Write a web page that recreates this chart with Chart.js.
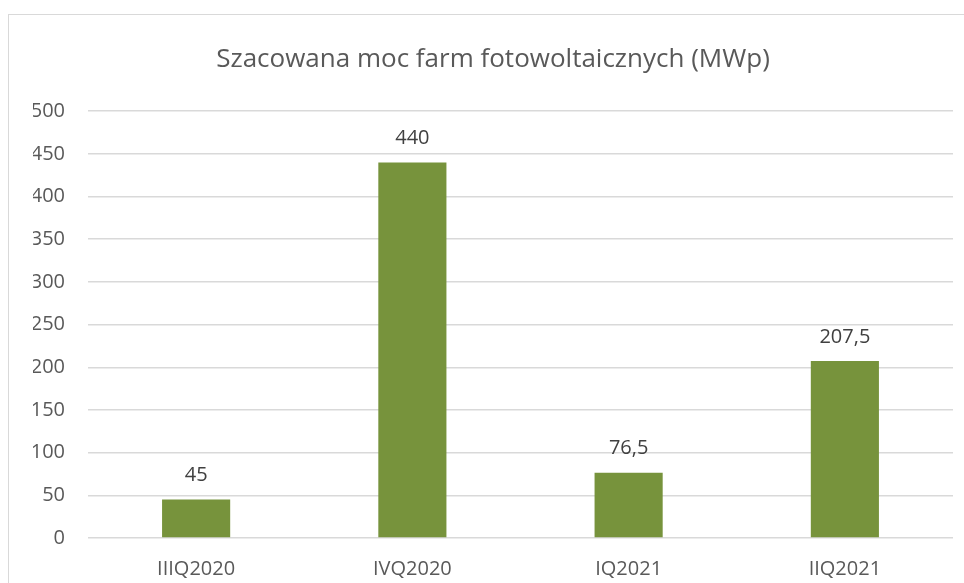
<!DOCTYPE html>
<html>
<head>
<meta charset="utf-8">
<script src="https://cdn.jsdelivr.net/npm/chart.js@4"></script>
<style>
  html, body { margin: 0; padding: 0; background: #fff; overflow: hidden; }
  #frame { position: absolute; left: 8px; top: 14px; width: 1100px; height: 800px; border: 1px solid #d9d9d9; }
  #wrap { position: absolute; left: 0; top: 0; width: 964px; height: 583px; }
</style>
</head>
<body>
<div id="frame"></div>
<div id="wrap"><canvas id="chart"></canvas></div>
<script>
// data
const quarters = ['IIIQ2020', 'IVQ2020', 'IQ2021', 'IIQ2021'];
const capacity = [45, 440, 76.5, 207.5];
const yTicks = [0, 50, 100, 150, 200, 250, 300, 350, 400, 450, 500];

const barColor = '#77933C';
const textColor = '#595959';
const fontName = "'Open Sans', sans-serif";

// values above the bars, with a comma as decimal sign
const valueLabels = {
  id: 'valueLabels',
  afterDatasetsDraw(chart) {
    const ctx = chart.ctx;
    const meta = chart.getDatasetMeta(0);
    ctx.save();
    ctx.font = '20px ' + fontName;
    ctx.fillStyle = '#404040';
    ctx.textAlign = 'center';
    ctx.textBaseline = 'middle';
    meta.data.forEach((bar, i) => {
      const txt = String(capacity[i]).replace('.', ',');
      ctx.fillText(txt, bar.x, bar.y - 24);
    });
    ctx.restore();
  }
};

const ctx = document.getElementById('chart').getContext('2d');
new Chart(ctx, {
  type: 'bar',
  data: {
    labels: quarters,
    datasets: [{
      label: 'MWp',
      data: capacity,
      backgroundColor: barColor,
      categoryPercentage: 1,
      barPercentage: 0.315
    }]
  },
  options: {
    responsive: true,
    maintainAspectRatio: false,
    animation: false,
    layout: { padding: { left: 33, right: 11, top: 0, bottom: 2 } },
    plugins: {
      legend: { display: false },
      tooltip: { enabled: false },
      title: {
        display: true,
        text: 'Szacowana moc farm fotowoltaicznych (MWp)',
        color: textColor,
        font: { family: fontName, size: 26, weight: 'normal' },
        padding: { top: 44, bottom: 36 }
      }
    },
    scales: {
      x: {
        grid: { display: false },
        border: { display: false },
        afterFit(scale) { scale.height = 43; },
        ticks: { color: textColor, font: { family: fontName, size: 20 }, padding: 11 }
      },
      y: {
        min: 0,
        max: 500,
        afterBuildTicks(scale) { scale.ticks = yTicks.map(v => ({ value: v })); },
        afterFit(scale) { scale.width = 55; },
        grid: { color: '#d9d9d9', lineWidth: 1.5, drawTicks: false },
        border: { display: false },
        ticks: { color: textColor, font: { family: fontName, size: 20 }, padding: 23 }
      }
    }
  },
  plugins: [valueLabels]
});
</script>
</body>
</html>
